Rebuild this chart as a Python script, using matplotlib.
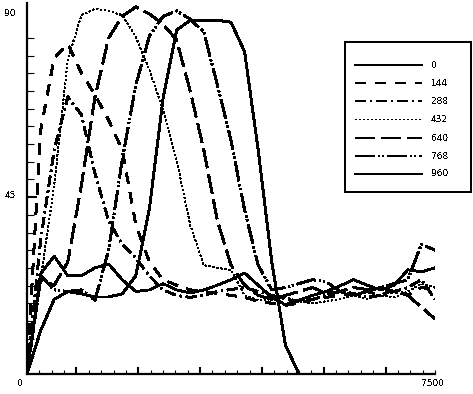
import matplotlib
matplotlib.use("Agg")
import matplotlib.pyplot as plt
from matplotlib.lines import Line2D
from matplotlib.patches import Rectangle

plt.rcParams['font.family'] = ['DejaVu Sans']
plt.rcParams['text.antialiased'] = False

# ---- data ----
x_pos = [0, 250, 500, 750, 1000, 1250, 1500, 1750, 2000, 2250, 2500, 2750, 3000,
         3250, 3500, 3750, 4000, 4250, 4500, 4750, 5000, 5250, 5500, 5750, 6000,
         6250, 6500, 6750, 7000, 7250, 7500]

s0 = [0, 25.5, 30, 25, 25, 27, 28, 24, 21, 21.4, 23, 21.4, 20.6, 21.4, 22.6, 24,
      25.7, 22.6, 19.5, 17.6, 18.8, 20, 21, 22.4, 24, 22.6, 21.4, 22.6, 26.5, 26, 27]
s144 = [0, 62, 80.4, 84, 76.6, 71, 64.6, 57, 38, 28.5, 24, 22.6, 21.4, 21, 20.5,
        20, 19.5, 18.5, 18, 17.5, 18, 19, 19.5, 20, 20.5, 21, 20, 21.5, 20, 22, 21.5]
s288 = [0, 34, 57, 70.5, 66, 51, 39, 33, 29.5, 25, 21.4, 20, 19.5, 20, 21, 21.5,
        22, 21, 20, 19, 18.5, 19, 20, 21, 20.5, 19.5, 20, 21, 22, 24, 19]
s432 = [0, 24, 48, 80, 91.3, 92.9, 92.4, 91.3, 85.8, 77.4, 67.2, 54.5, 37.9, 27.7,
        27, 26.5, 20, 18.8, 19, 19.5, 18.5, 18, 18.5, 19, 20, 19, 20, 19.5, 21, 23, 22]
s640 = [0, 24, 22.6, 28.5, 48, 70.5, 85.5, 91, 93.4, 91.6, 89, 85, 72, 57, 39, 27.7,
        22.6, 20, 19, 20, 21, 22, 20.5, 21, 22, 21.5, 22, 21, 20, 17, 14]
s768 = [0, 25, 21.4, 21, 21.4, 18.8, 31.5, 54.5, 73.5, 86, 91, 92.4, 90.3, 87, 73.5,
        59.5, 41.7, 27.7, 21.4, 22, 23, 24, 23.5, 21, 20, 21, 22, 23, 24, 33, 31.5]
s960 = [0, 11, 19, 21, 20.4, 19.6, 19.6, 20.4, 25, 42, 70, 87.5, 90, 90, 90, 89.5,
        82, 57, 28.5, 7.4, 0]

labels = ["0", "144", "288", "432", "640", "768", "960"]
series = [s0, s144, s288, s432, s640, s768, s960]

x_tick_labels = ["0", "7500"]
y_tick_labels = ["45", "90"]

# ---- styles ----
styles = [
    dict(linestyle='-', lw=1.3),
    dict(linestyle=(0, (5.8, 5.0)), lw=1.3),
    dict(linestyle=(0, (5.8, 2.6, 1.0, 2.6)), lw=1.3),
    dict(linestyle=(0, (0.8, 1.6)), lw=1.0),
    dict(linestyle=(0, (10.8, 3.6)), lw=1.3),
    dict(linestyle=(0, (10.8, 2.0, 0.8, 1.5, 0.8, 2.0)), lw=1.3),
    dict(linestyle='-', lw=1.4),
]

W, H = 473, 394
fig = plt.figure(figsize=(W / 100, H / 100), dpi=100)
ax = fig.add_axes([27 / W, 1 - 374 / H, (435 - 27) / W, (374 - 3) / H])

for s, st in zip(series, styles):
    ax.plot(x_pos[:len(s)], s, color='black', antialiased=False,
            dash_capstyle='butt', **st)

ax.set_xlim(0, 7500)
ax.set_ylim(0, 94.4)

for sp in ['top', 'right']:
    ax.spines[sp].set_visible(False)
for sp in ['left', 'bottom']:
    ax.spines[sp].set_linewidth(1.6)

step = 7500 / 33
xt_all = [n * step for n in range(1, 34)]
xt_major = [v for n, v in zip(range(1, 34), xt_all) if n % 5 == 4]
xt_minor = [v for n, v in zip(range(1, 34), xt_all) if n % 5 != 4]
ax.set_xticks(xt_major)
ax.set_xticks(xt_minor, minor=True)
yt_minor = [4.5 * n for n in range(1, 20) if n != 10]
ax.set_yticks([45])
ax.set_yticks(yt_minor, minor=True)
ax.set_xticklabels([])
ax.set_yticklabels([])
ax.tick_params(axis='x', which='major', direction='in', length=5, width=1.5)
ax.tick_params(axis='x', which='minor', direction='in', length=2.6, width=0.8)
ax.tick_params(axis='y', which='major', direction='in', length=7, width=1.5)
ax.tick_params(axis='y', which='minor', direction='in', length=4.8, width=0.8)

fs = 6.5
fig.text(20 / W, 1 - 384 / H, x_tick_labels[0], ha='center', va='center', fontsize=fs)
fig.text(433 / W, 1 - 384 / H, x_tick_labels[1], ha='center', va='center', fontsize=fs)
fig.text(10 / W, 1 - 196 / H, y_tick_labels[0], ha='center', va='center', fontsize=fs)
fig.text(10 / W, 1 - 14 / H, y_tick_labels[1], ha='center', va='center', fontsize=fs)

# ---- legend (drawn manually to match the box) ----
fig.add_artist(Rectangle((345 / W, 1 - 192 / H), (471 - 345) / W, (192 - 42) / H,
                         transform=fig.transFigure, fill=False, edgecolor='black',
                         linewidth=1.2, antialiased=False))
row_y = [65, 83, 101, 119, 138, 156, 174]
for lab, st, ry in zip(labels, styles, row_y):
    fig.add_artist(Line2D([355 / W, 422 / W], [1 - ry / H, 1 - ry / H],
                          transform=fig.transFigure, color='black',
                          antialiased=False, dash_capstyle='butt', **st))
    fig.text(431 / W, 1 - ry / H, lab, ha='left', va='center', fontsize=fs)

fig.savefig("out.png", dpi=100)
